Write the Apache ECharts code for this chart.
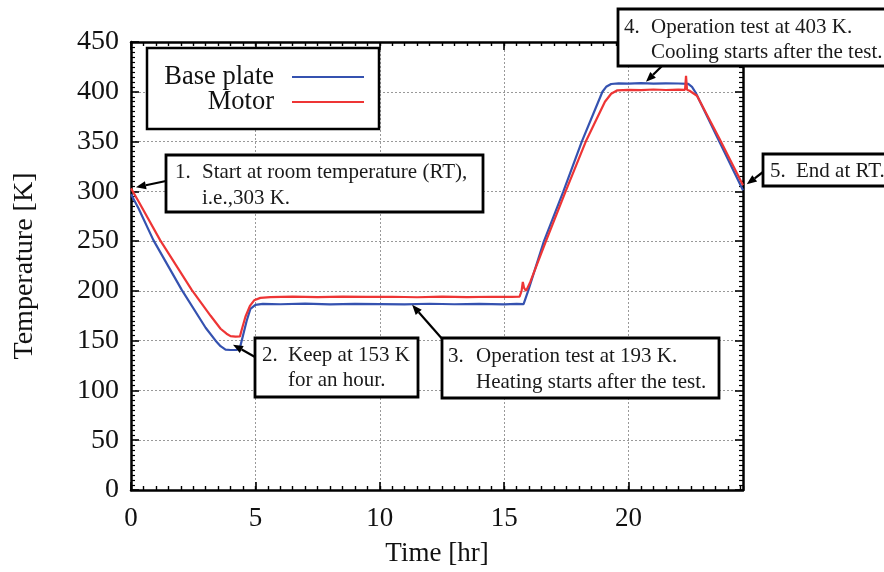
<!DOCTYPE html>
<html>
<head>
<meta charset="utf-8">
<script src="https://cdn.jsdelivr.net/npm/echarts@6/dist/echarts.min.js"></script>
<style>
  html, body { margin: 0; padding: 0; background: #fff; }
  #chart { width: 884px; height: 572px; }
</style>
</head>
<body>
<div id="chart"></div>
<script>
// Thermal cycle record: base plate and motor temperatures over time.
const seriesNames = ['Base plate', 'Motor'];

const baseTime = [0, 0.3, 0.9, 2.04, 3.0, 3.4, 3.6, 3.8, 4.0, 4.25, 4.38, 4.5, 4.65, 4.8, 5.0, 5.3,
  6, 7, 8, 9, 10, 11, 12, 13, 14, 15, 15.5, 15.78,
  15.95, 16.6, 17.38, 18.12, 18.95, 19.1, 19.3, 19.6,
  20, 20.5, 21, 21.5, 22, 22.4, 22.55, 22.7, 23.55, 24.6];
const baseTemp = [297, 283, 251, 201, 163, 150, 144.5, 141, 140.6, 140.8, 143, 155, 170, 182, 186, 187,
  186.6, 187.2, 186.5, 187, 186.7, 186.4, 187.1, 186.6, 187, 186.5, 186.9, 186.8,
  199, 250, 300, 350, 400, 405, 407.8, 408.4,
  408.2, 408.6, 408.1, 408.5, 408.3, 408, 405, 399, 355, 301];

const motorTime = [0, 0.3, 1.17, 2.44, 3.2, 3.6, 3.84, 4.0, 4.2, 4.38, 4.45, 4.6, 4.78, 4.95, 5.2, 5.6,
  6.5, 7.5, 8.5, 9.5, 10.5, 11.5, 12.5, 13.5, 14.5, 15.3, 15.62,
  15.7, 15.75, 15.8, 15.88, 16.05, 16.68, 17.47, 18.28, 19.05, 19.3, 19.55,
  20, 20.5, 21, 21.5, 22, 22.27, 22.31, 22.35, 22.45, 22.75, 23.65, 24.6];
const motorTemp = [303, 290, 251, 201, 175, 162, 157, 154.5, 154, 154.3, 161, 174, 185, 190.5, 193, 193.8,
  194.2, 193.7, 194.3, 193.9, 194.1, 193.6, 194.2, 193.8, 194.1, 193.9, 194.2,
  200, 209, 203, 200, 209, 250, 300, 350, 390, 398, 401.5,
  402, 401.6, 402.3, 401.8, 402.2, 402, 416, 402, 401, 396, 353, 306];

// Annotation texts and the data point each arrow points at.
const noteNumbers = ['1.', '2.', '3.', '4.', '5.'];
const noteLines = [
  ['Start at room temperature (RT),', 'i.e.,303 K.'],
  ['Keep at 153 K', 'for an hour.'],
  ['Operation test at 193 K.', 'Heating starts after the test.'],
  ['Operation test at 403 K.', 'Cooling starts after the test.'],
  ['End at RT.']
];
const noteTargets = [[0.2, 304], [4.1, 146], [11.3, 186], [20.7, 410], [24.75, 307]];

// Box geometry for each note: [x, y, w, h], text column positions, arrow tail.
const noteBoxes = [
  { box: [166, 155, 317, 57], numX: 175, bodyX: 202, lineY: [172, 198], tail: [166, 181] },
  { box: [255, 338, 163, 59], numX: 262, bodyX: 288, lineY: [355, 380], tail: [255, 357] },
  { box: [442, 338, 277, 60], numX: 448, bodyX: 476, lineY: [356, 382], tail: [444, 341] },
  { box: [618, 9, 270, 57], numX: 624, bodyX: 651, lineY: [27, 52], tail: [662, 66] },
  { box: [763, 154, 125, 32], numX: 770, bodyX: 796, lineY: [171], tail: [763, 172] }
];

const BLUE = '#3552b0';
const RED = '#ee3535';
const SERIF = '"Liberation Serif", "DejaVu Serif", serif';

function pairs(xs, ys) { return xs.map((x, i) => [x, ys[i]]); }

const chart = echarts.init(document.getElementById('chart'), null, { renderer: 'canvas' });

const gridBox = { left: 131, top: 42, width: 612, height: 448 };

const majorX = {
  type: 'value', min: 0, max: 24.6, interval: 5,
  axisLine: { show: true, onZero: false, lineStyle: { color: '#000', width: 2.5 } },
  axisTick: { show: true, inside: true, length: 8, lineStyle: { color: '#000', width: 1.6 } },
  splitLine: { show: false },
  axisLabel: { show: false }
};
const minorX = {
  type: 'value', min: 0, max: 24.6, interval: 0.5,
  axisLine: { show: false, onZero: false },
  axisTick: { show: true, inside: true, length: 4, lineStyle: { color: '#000', width: 1.4 } },
  splitLine: { show: false },
  axisLabel: { show: false }
};

const option = {
  animation: false,
  backgroundColor: '#fff',
  grid: Object.assign({ containLabel: false }, gridBox),
  xAxis: [
    Object.assign({}, majorX, {
      position: 'bottom',
      name: 'Time [hr]', nameLocation: 'middle', nameGap: 50,
      nameTextStyle: { fontFamily: SERIF, fontSize: 27, color: '#111' },
      splitLine: { show: true, lineStyle: { color: '#999', width: 1, type: [2, 2] } },
      axisLabel: { show: true, margin: 15, showMaxLabel: false, fontFamily: SERIF, fontSize: 27, color: '#111' }
    }),
    Object.assign({}, minorX, { position: 'bottom' }),
    Object.assign({}, majorX, { position: 'top' }),
    Object.assign({}, minorX, { position: 'top' })
  ],
  yAxis: [
    {
      type: 'value', min: 0, max: 450, interval: 50, position: 'left',
      name: 'Temperature [K]', nameLocation: 'middle', nameGap: 92, nameRotate: 90,
      nameTextStyle: { fontFamily: SERIF, fontSize: 28, color: '#111' },
      axisLine: { show: true, onZero: false, lineStyle: { color: '#000', width: 2.5 } },
      axisTick: { show: true, inside: true, length: 8, lineStyle: { color: '#000', width: 1.6 } },
      minorTick: { show: true, splitNumber: 10, length: 4, lineStyle: { color: '#000', width: 1.2 } },
      splitLine: { show: true, lineStyle: { color: '#999', width: 1, type: [2, 2] } },
      axisLabel: { margin: 12, fontFamily: SERIF, fontSize: 28, color: '#111' }
    },
    {
      type: 'value', min: 0, max: 450, interval: 50, position: 'right',
      axisLine: { show: true, onZero: false, lineStyle: { color: '#000', width: 2.5 } },
      axisTick: { show: true, inside: true, length: 8, lineStyle: { color: '#000', width: 1.6 } },
      minorTick: { show: true, splitNumber: 10, length: 4, lineStyle: { color: '#000', width: 1.2 } },
      splitLine: { show: false },
      axisLabel: { show: false }
    }
  ],
  series: [
    {
      name: seriesNames[0], type: 'line', xAxisIndex: 0, yAxisIndex: 0,
      data: pairs(baseTime, baseTemp), showSymbol: false, smooth: false,
      lineStyle: { color: BLUE, width: 2.2 }, z: 3
    },
    {
      name: seriesNames[1], type: 'line', xAxisIndex: 0, yAxisIndex: 0,
      data: pairs(motorTime, motorTemp), showSymbol: false, smooth: false,
      lineStyle: { color: RED, width: 2.2 }, z: 4
    }
  ]
};

chart.setOption(option);

// Legend box, annotation boxes and arrows.
const graphics = [];

graphics.push({
  type: 'rect', shape: { x: 147, y: 48, width: 232, height: 81 },
  style: { fill: '#fff', stroke: '#000', lineWidth: 2.5 }, z: 20
});
[BLUE, RED].forEach((c, i) => {
  const y = 77 + i * 25;
  graphics.push({
    type: 'text', x: 274, y: y,
    style: { text: seriesNames[i], fontFamily: SERIF, fontSize: 26.5, fill: '#111', align: 'right', verticalAlign: 'middle' },
    z: 21
  });
  graphics.push({
    type: 'line', shape: { x1: 292, y1: y, x2: 364, y2: y },
    style: { stroke: c, lineWidth: 2 }, z: 21
  });
});

noteBoxes.forEach((nb, i) => {
  const [bx, by, bw, bh] = nb.box;
  graphics.push({
    type: 'rect', shape: { x: bx, y: by, width: bw, height: bh },
    style: { fill: '#fff', stroke: '#000', lineWidth: 2.8 }, z: 20
  });
  graphics.push({
    type: 'text', x: nb.numX, y: nb.lineY[0],
    style: { text: noteNumbers[i], fontFamily: SERIF, fontSize: 21, fill: '#1a1a1a', verticalAlign: 'middle' },
    z: 21
  });
  noteLines[i].forEach((ln, j) => {
    graphics.push({
      type: 'text', x: nb.bodyX, y: nb.lineY[j],
      style: { text: ln, fontFamily: SERIF, fontSize: 21, fill: '#1a1a1a', verticalAlign: 'middle' },
      z: 21
    });
  });
  // arrow from the box edge to the target point
  const tip = chart.convertToPixel({ xAxisIndex: 0, yAxisIndex: 0 }, noteTargets[i]);
  const [tx, ty] = nb.tail;
  const ang = Math.atan2(tip[1] - ty, tip[0] - tx);
  const headLen = 10, headHalf = 4;
  const bxp = tip[0] - headLen * Math.cos(ang), byp = tip[1] - headLen * Math.sin(ang);
  const nx = -Math.sin(ang), ny = Math.cos(ang);
  graphics.push({
    type: 'line', shape: { x1: tx, y1: ty, x2: bxp, y2: byp },
    style: { stroke: '#000', lineWidth: 2.2 }, z: 19
  });
  graphics.push({
    type: 'polygon',
    shape: { points: [[tip[0], tip[1]], [bxp + nx * headHalf, byp + ny * headHalf], [bxp - nx * headHalf, byp - ny * headHalf]] },
    style: { fill: '#000' }, z: 19
  });
});

chart.setOption({ graphic: graphics });
</script>
</body>
</html>
